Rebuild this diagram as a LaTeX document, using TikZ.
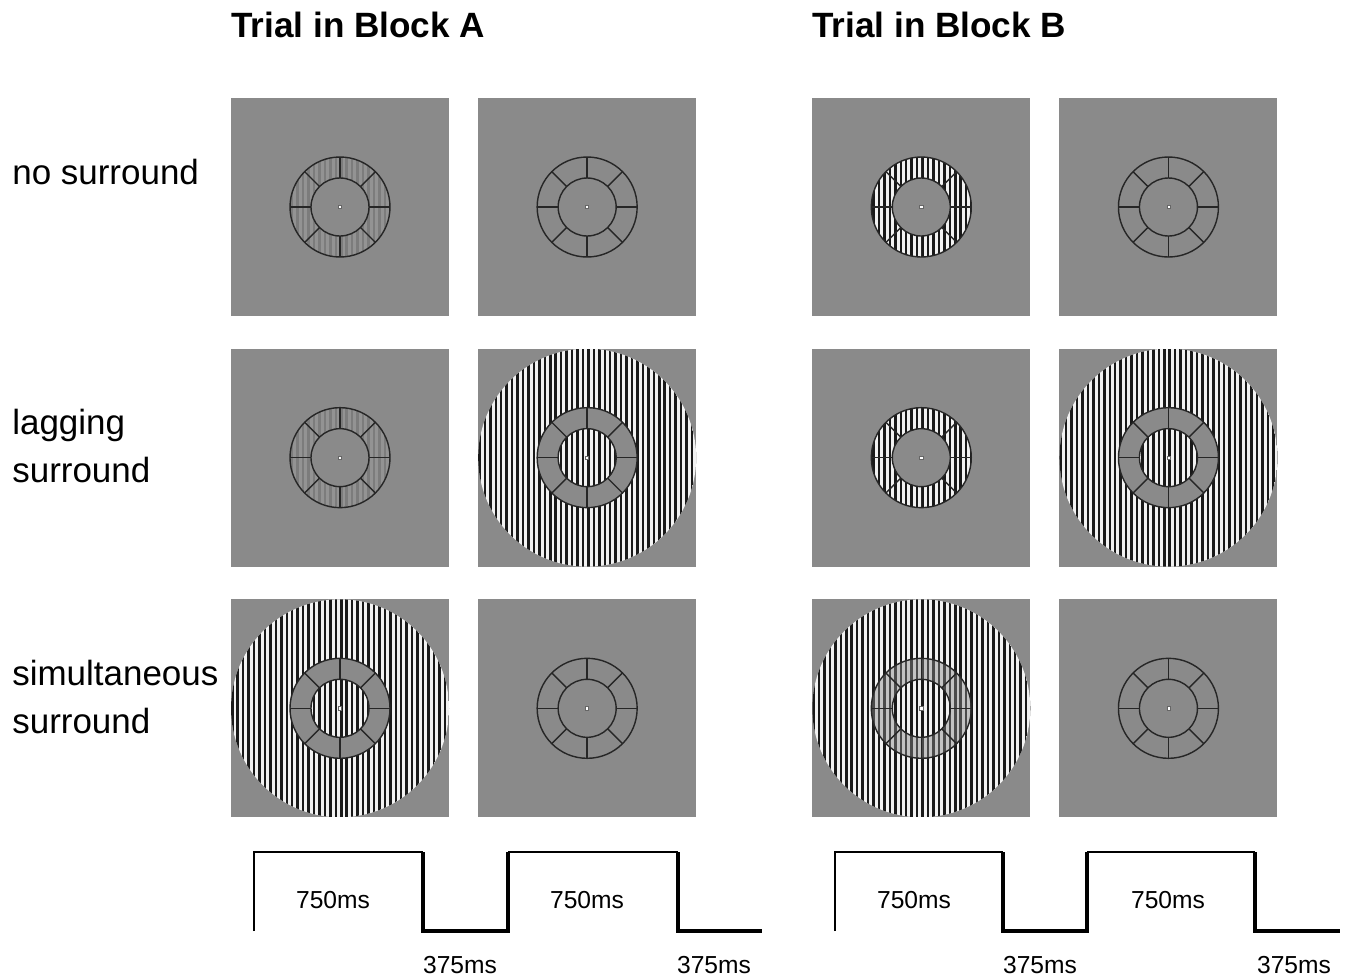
\documentclass[tikz,border=0pt]{standalone}
\usepackage{fontspec}
\setmainfont{Liberation Sans}
\usetikzlibrary{positioning}
\definecolor{panelgray}{RGB}{138,138,138}
\definecolor{ringline}{RGB}{38,38,38}

\begin{document}
\begin{tikzpicture}[
    x=0.02cm, y=0.02cm,
    node distance=0.64cm and 0.57cm,
    panel/.style={rectangle, fill=panelgray, minimum size=4.36cm, inner sep=0pt},
    rowlabel/.style={anchor=west, align=left, inner sep=0pt, font=\fontsize{19.9}{27.3}\selectfont},
    title/.style={anchor=west, inner sep=0pt, font=\fontsize{20}{24}\selectfont\bfseries},
    timing/.style={inner sep=0pt, font=\fontsize{14}{16}\selectfont},
    wave/.style={line width=1.1pt},
    wavethick/.style={line width=2.2pt},
    pics/grating/.style n args={3}{code={
        \begin{scope}
          \clip (0,0) circle (#1);
          \fill[#3] (-#1,-#1) rectangle (#1,#1);
          \foreach \k in {-21,...,20}
            \fill[#2] (\k*5.45,-#1) rectangle ++(2.5,2*#1);
        \end{scope}
    }},
    pics/hole/.style={code={
        \fill[panelgray] (0,0) circle (29);
    }},
    pics/annulus/.style={code={
        \fill[#1, even odd rule] (0,0) circle (50) (0,0) circle (29);
    }},
    pics/ring/.style={code={
        \draw[ringline, line width=0.8pt] (0,0) circle (50) (0,0) circle (29);
        \foreach \a in {0,45,...,315}
          \draw[ringline, line width=0.8pt] (\a:29) -- (\a:50);
        \filldraw[fill=white, draw=black!60, line width=0.3pt] (-1.6,-1.6) rectangle (1.6,1.6);
    }}
  ]
    \useasboundingbox (0,0) rectangle (1349,-978);

    % Titles
    \node[title] (titleA) at (231,-25) {Trial in Block A};
    \node[title] (titleB) at (812,-25) {Trial in Block B};

    % Row labels
    \node[rowlabel] (lblnone) at (12,-172) {no surround};
    \node[rowlabel] (lbllag) at (12,-446) {lagging\\surround};
    \node[rowlabel] (lblsim) at (12,-697) {simultaneous\\surround};

    % Panels, block A
    \node[panel] (a-ns-1) at (340,-207) {};
    \node[panel, right=of a-ns-1] (a-ns-2) {};
    \node[panel, below=of a-ns-1] (a-lag-1) {};
    \node[panel, right=of a-lag-1] (a-lag-2) {};
    \node[panel, below=of a-lag-1] (a-sim-1) {};
    \node[panel, right=of a-sim-1] (a-sim-2) {};

    % Panels, block B
    \node[panel, right=2.31cm of a-ns-2] (b-ns-1) {};
    \node[panel, right=of b-ns-1] (b-ns-2) {};
    \node[panel, below=of b-ns-1] (b-lag-1) {};
    \node[panel, right=of b-lag-1] (b-lag-2) {};
    \node[panel, below=of b-lag-1] (b-sim-1) {};
    \node[panel, right=of b-sim-1] (b-sim-2) {};

    % Block A contents
    \pic at (a-ns-1) {grating={50}{panelgray!90!black}{panelgray!92!white}};
    \pic at (a-ns-1) {hole};
    \pic at (a-ns-1) {ring};
    \pic at (a-ns-2) {ring};
    \pic at (a-lag-1) {grating={50}{panelgray!90!black}{panelgray!92!white}};
    \pic at (a-lag-1) {hole};
    \pic at (a-lag-1) {ring};
    \pic at (a-lag-2) {grating={109}{black!90}{white!95!black}};
    \pic at (a-lag-2) {annulus=panelgray};
    \pic at (a-lag-2) {ring};
    \pic at (a-sim-1) {grating={109}{black!90}{white!95!black}};
    \pic at (a-sim-1) {annulus=panelgray};
    \pic at (a-sim-1) {ring};
    \pic at (a-sim-2) {ring};

    % Block B contents
    \pic at (b-ns-1) {grating={50}{black!90}{white!95!black}};
    \pic at (b-ns-1) {hole};
    \pic at (b-ns-1) {ring};
    \pic at (b-ns-2) {ring};
    \pic at (b-lag-1) {grating={50}{black!90}{white!95!black}};
    \pic at (b-lag-1) {hole};
    \pic at (b-lag-1) {ring};
    \pic at (b-lag-2) {grating={109}{black!90}{white!95!black}};
    \pic at (b-lag-2) {annulus=panelgray};
    \pic at (b-lag-2) {ring};
    \pic at (b-sim-1) {grating={109}{black!90}{white!95!black}};
    \pic at (b-sim-1) {annulus={panelgray, opacity=0.45}};
    \pic at (b-sim-1) {ring};
    \pic at (b-sim-2) {ring};

    % Timing, block A
    \draw[wave] (254,-931) -- (254,-852) -- (423,-852);
    \draw[wavethick] (423,-852) -- (423,-931) -- (508,-931) -- (508,-852);
    \draw[wave] (508,-852) -- (678,-852);
    \draw[wavethick] (678,-852) -- (678,-931) -- (762,-931);
    \node[timing] (onA1) at (333,-900) {750ms};
    \node[timing] (offA1) at (460,-965) {375ms};
    \node[timing] (onA2) at (587,-900) {750ms};
    \node[timing] (offA2) at (714,-965) {375ms};

    % Timing, block B
    \draw[wave] (835,-931) -- (835,-852) -- (1003,-852);
    \draw[wavethick] (1003,-852) -- (1003,-931) -- (1087,-931) -- (1087,-852);
    \draw[wave] (1087,-852) -- (1255,-852);
    \draw[wavethick] (1255,-852) -- (1255,-931) -- (1340,-931);
    \node[timing] (onB1) at (914,-900) {750ms};
    \node[timing] (offB1) at (1040,-965) {375ms};
    \node[timing] (onB2) at (1168,-900) {750ms};
    \node[timing] (offB2) at (1294,-965) {375ms};
  \end{tikzpicture}
\end{document}
